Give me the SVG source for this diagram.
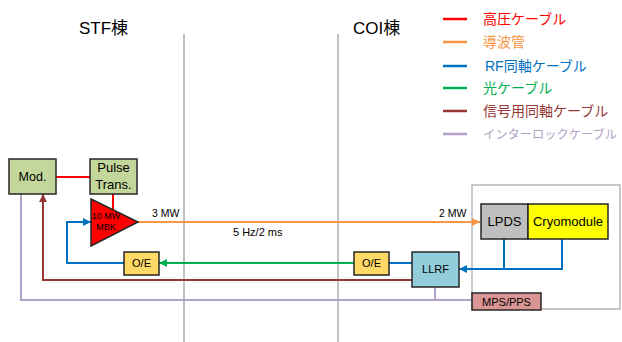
<svg xmlns="http://www.w3.org/2000/svg" width="622" height="342" viewBox="0 0 622 342">
<defs>
<style>
text{font-family:"Liberation Sans","Noto Sans CJK JP",sans-serif;fill:#000}
.box{stroke:#262626;stroke-width:1.5}
.c{fill:none;stroke-width:2}
.leg{font-size:14px}
.ll{stroke-width:2.5}
</style>
<marker id="aO" viewBox="0 0 8 8" refX="8" refY="4" markerWidth="8" markerHeight="8" markerUnits="userSpaceOnUse" orient="auto"><path d="M0,0 L8,4 L0,8 z" fill="#f79646"/></marker>
<marker id="aB" viewBox="0 0 8 8" refX="8" refY="4" markerWidth="8" markerHeight="8" markerUnits="userSpaceOnUse" orient="auto"><path d="M0,0 L8,4 L0,8 z" fill="#0070c0"/></marker>
<marker id="aG" viewBox="0 0 8 8" refX="8" refY="4" markerWidth="8" markerHeight="8" markerUnits="userSpaceOnUse" orient="auto"><path d="M0,0 L8,4 L0,8 z" fill="#00b050"/></marker>
<marker id="aR" viewBox="0 0 8 8" refX="8" refY="4" markerWidth="8" markerHeight="8" markerUnits="userSpaceOnUse" orient="auto"><path d="M0,0 L8,4 L0,8 z" fill="#953735"/></marker>
</defs>
<rect width="622" height="342" fill="#fff"/>
<g id="dividers" stroke="#999" stroke-width="1.2">
<line x1="184" y1="34" x2="184" y2="342"/>
<line x1="338" y1="34" x2="338" y2="342"/>
</g>
<text x="79" y="34" font-size="17">STF棟</text>
<text x="353" y="34" font-size="17">COI棟</text>
<g id="legend">
<line class="ll" x1="443" y1="19" x2="467" y2="19" stroke="#ff0000"/><text class="leg" x="483" y="24" style="fill:#ff0000">高圧ケーブル</text>
<line class="ll" x1="443" y1="42" x2="467" y2="42" stroke="#f79646"/><text class="leg" x="483" y="47" style="fill:#f79646">導波管</text>
<line class="ll" x1="443" y1="66" x2="467" y2="66" stroke="#0070c0"/><text class="leg" x="485" y="71" style="fill:#0070c0">RF同軸ケーブル</text>
<line class="ll" x1="443" y1="88" x2="467" y2="88" stroke="#00b050"/><text class="leg" x="483" y="93" style="fill:#00b050">光ケーブル</text>
<line class="ll" x1="443" y1="111" x2="467" y2="111" stroke="#953735"/><text class="leg" x="483" y="116" style="fill:#953735">信号用同軸ケーブル</text>
<line class="ll" x1="443" y1="134" x2="467" y2="134" stroke="#b3a2c7"/><text x="483" y="139" font-size="12" textLength="134" lengthAdjust="spacingAndGlyphs" style="fill:#b3a2c7">インターロックケーブル</text>
</g>
<g id="cryo-area"><rect x="472" y="185" width="148" height="124" fill="#fff" stroke="#a6a6a6" stroke-width="1.2"/></g>
<g id="connectors">
<path class="c" stroke="#ff0000" d="M56,177 H90 M113,194 V212"/>
<path class="c" stroke="#f79646" d="M138,222 H480" marker-end="url(#aO)"/>
<path class="c" stroke="#0070c0" d="M124,263 H67 V222 H91" marker-end="url(#aB)"/>
<path class="c" stroke="#00b050" d="M354,263 H159" marker-end="url(#aG)"/>
<path class="c" stroke="#0070c0" d="M389,263 H412"/>
<path class="c" stroke="#953735" d="M412,280 H43 V194" marker-end="url(#aR)"/>
<path class="c" stroke="#b3a2c7" d="M21,194 V300 H472 M435,287 V300"/>
<path class="c" stroke="#0070c0" d="M504,239 V269"/>
<path class="c" stroke="#0070c0" d="M562,239 V269 H459" marker-end="url(#aB)"/>
</g>
<g id="mod"><rect class="box" x="9" y="159" width="47" height="35" fill="#c3d69b"/><text x="32.5" y="181" font-size="12.5" text-anchor="middle">Mod.</text></g>
<g id="pulse"><rect class="box" x="90" y="159" width="47" height="35" fill="#c3d69b"/><text x="113.5" y="172" font-size="13" text-anchor="middle">Pulse</text><text x="113.5" y="189" font-size="13" text-anchor="middle">Trans.</text></g>
<g id="mbk"><path class="box" d="M91,199 L138,222 L91,246 Z" fill="#ff0000"/><text x="106" y="219" font-size="9" text-anchor="middle">10 MW</text><text x="106" y="230" font-size="9" text-anchor="middle">MBK</text></g>
<g id="oe-left"><rect class="box" x="124" y="252" width="35" height="23" fill="#ffd966"/><text x="141.5" y="267" font-size="11" text-anchor="middle">O/E</text></g>
<g id="oe-right"><rect class="box" x="354" y="252" width="35" height="23" fill="#ffd966"/><text x="371.5" y="267" font-size="11" text-anchor="middle">O/E</text></g>
<g id="llrf"><rect class="box" x="412" y="252" width="47" height="35" fill="#92cddc"/><text x="435.5" y="273" font-size="11" text-anchor="middle">LLRF</text></g>
<g id="lpds"><rect class="box" x="481" y="204" width="47" height="35" fill="#bfbfbf"/><text x="504.5" y="226" font-size="13" text-anchor="middle">LPDS</text></g>
<g id="cryomodule"><rect class="box" x="528" y="204" width="80" height="35" fill="#ffff00"/><text x="568" y="226" font-size="13" text-anchor="middle">Cryomodule</text></g>
<g id="mps"><rect class="box" x="472" y="293" width="69" height="17" fill="#d99694"/><text x="506.5" y="305.5" font-size="11" text-anchor="middle">MPS/PPS</text></g>
<g id="labels">
<text x="152" y="217" font-size="10.5">3 MW</text>
<text x="233" y="236" font-size="11">5 Hz/2 ms</text>
<text x="439" y="217" font-size="10.5">2 MW</text>
</g>
</svg>
